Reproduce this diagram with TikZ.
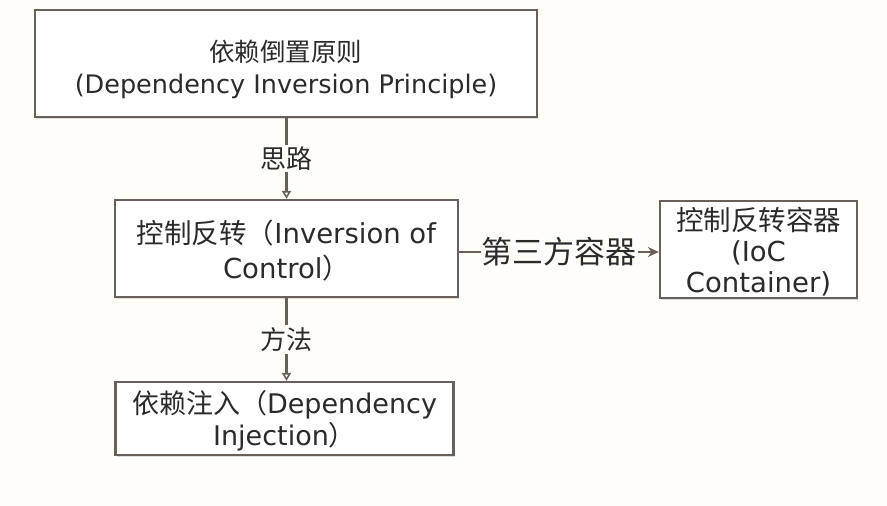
\documentclass[tikz,border=0pt]{standalone}
\usepackage{fontspec}
\setmainfont{DejaVu Sans}
\newfontfamily\cjk{Noto Sans CJK SC}
\usetikzlibrary{arrows.meta,shadows}
\definecolor{bg}{HTML}{FFFDF8}
\definecolor{edge}{HTML}{6A605B}
\definecolor{ink}{HTML}{2B2B2B}
\begin{document}
\begin{tikzpicture}[x=1pt,y=-1pt,
  box/.style={draw=edge, line width=2.2pt, fill=white, align=center, text=ink, inner sep=0pt,
    drop shadow={shadow xshift=1pt,shadow yshift=-2pt,opacity=0.25}},
  conn/.style={draw=edge, line width=2.2pt},
  lbl/.style={fill=bg, text=ink, inner sep=2pt}]
\fill[bg] (0,0) rectangle (887,506);
\useasboundingbox (0,0) rectangle (887,506);

\node[box, minimum width=502pt, minimum height=107pt, font=\fontsize{25.5}{32}\selectfont]
  (dip) at (286,63.5) {\rule{0pt}{33pt}{\cjk 依赖倒置原则}\\(Dependency Inversion Principle)};
\node[box, minimum width=343pt, minimum height=97pt, font=\fontsize{27.5}{35}\selectfont]
  (ioc) at (286.5,248.5) {\rule{0pt}{28pt}{\cjk 控制反转（}Inversion of\\Control{\cjk ）}};
\node[box, minimum width=197pt, minimum height=97pt, font=\fontsize{27.5}{31}\selectfont]
  (cont) at (758.5,249.5) {\rule{0pt}{27pt}{\cjk 控制反转容器}\\(IoC\\Container)};
\node[box, minimum width=338pt, minimum height=73pt, font=\fontsize{27}{32}\selectfont]
  (di) at (284.5,418.5) {\rule{0pt}{28pt}{\cjk 依赖注入（}Dependency\\Injection{\cjk ）}};

\draw[conn, -{Triangle[open,length=8pt,width=9pt,line width=1.6pt]}]
  (dip.south -| ioc.north) -- node[lbl, font=\cjk\fontsize{26}{30}\selectfont]{思路} (ioc.north);
\draw[conn, -{Triangle[open,length=8pt,width=9pt,line width=1.6pt]}]
  (ioc.south) -- node[lbl, font=\cjk\fontsize{26}{30}\selectfont]{方法} (ioc.south |- di.north);
\draw[conn, -{Stealth[length=11pt,width=10pt]}]
  (ioc.east |- 0,252) -- node[lbl, inner sep=1pt, font=\cjk\fontsize{31}{34}\selectfont]{第三方容器} (cont.west |- 0,252);
\end{tikzpicture}
\end{document}
